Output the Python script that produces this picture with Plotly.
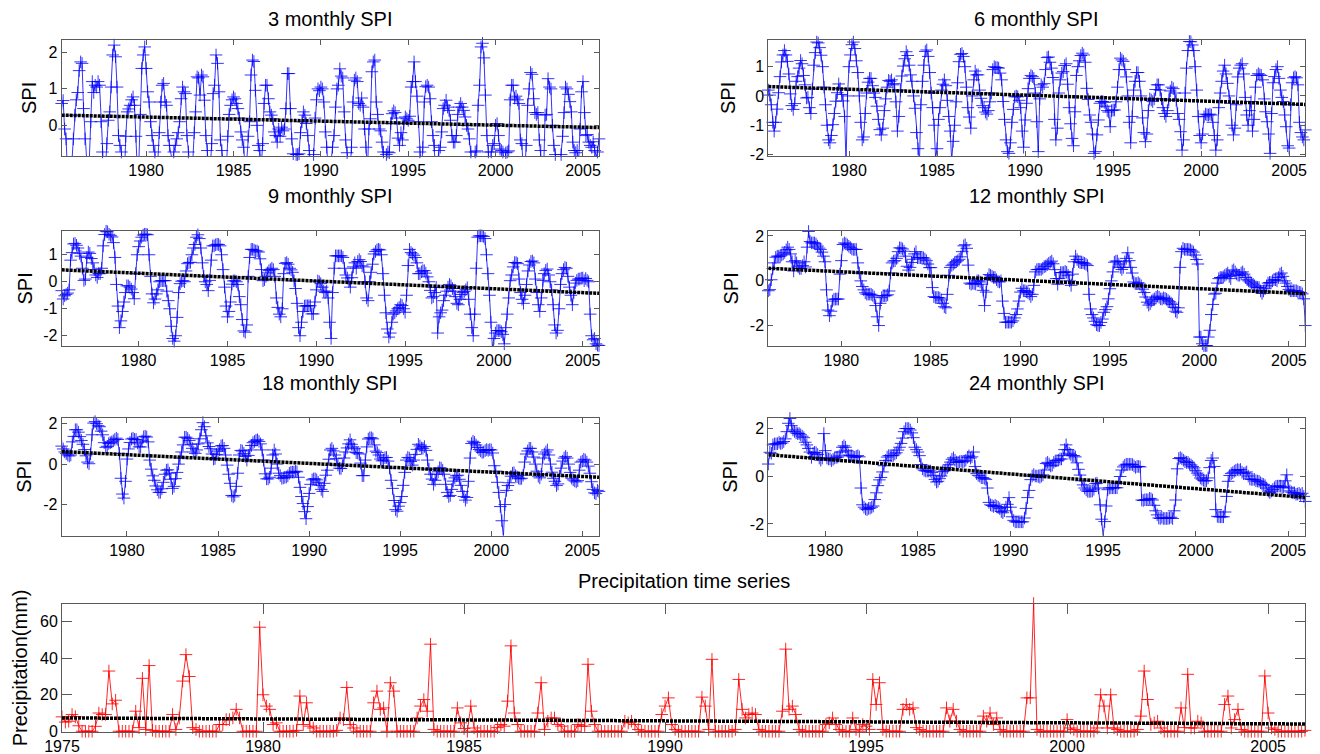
import numpy as np
import plotly.graph_objects as go

W, H = 1320, 754
OFF = 8  # page body margin in the browser; positions below are page pixels
FONT = "Liberation Sans, Arial, Helvetica, sans-serif"
BLUE = "rgba(0,0,255,0.8)"
RED = "rgba(255,0,0,0.85)"
FRAME = "#5a5a5a"

# ---------------- data (monthly values) ----------------
# 3-monthly SPI, Mar 1975 .. Dec 2005
spi3 = [
    0.6, 0.68, -0.1, -0.37, -1.3, -1.6, -1.4, -1.0, -0.37, 0.28,
    0.7, 0.9, 1.5, 1.74, 1.7, 0.46, -0.37, -1.3, -1.5, -0.9, 0.1, 1.2,
    0.9, 1.1, 1.05, 1.2, 1.1, 0.1, -0.73, -1.4, -1.2, -0.5, 0.14, 0.37,
    1.05, 1.93, 2.2, 1.88, 1.05, -0.28, -0.55, -0.73, -1.3, -1.5, -0.3, 0.37,
    0.45, 0.55, 0.7, 0.78, 0.55, -0.3, -1.3, -1.0, 0.3, 1.56, 1.93, 2.15,
    1.56, 0.92, 0.64, 0.1, -0.28, -0.55, -0.73, -1.3, -1.0, -0.2, 0.64, 1.1,
    1.15, 0.64, 0.55, -0.28, -0.55, -0.9, -1.0, -0.73, -0.55, -0.37, -0.2, 0.1,
    0.73, 1.05, 0.92, 0.87, -0.28, -0.73, -1.3, -1.5, -1.0, -0.2, 0.37, 1.33,
    1.3, 0.83, 1.38, 1.33, 0.69, -0.28, -0.69, -1.3, -1.2, -0.5, 0.87, 1.1,
    1.93, 1.7, 0.92, -0.4, -0.69, -1.2, -1.4, -1.2, -0.3, 0.3, 0.55, 0.7,
    0.78, 0.73, 0.6, 0.46, 0.2, -0.18, -0.4, -0.6, -1.2, -1.0, -0.3, 0.1,
    1.38, 1.79, 1.75, 0.96, 0.0, -0.55, -0.69, -1.2, -0.5, 0.6, 1.1, 1.1,
    0.73, 0.37, 0.28, 0.18, -0.18, -0.28, -0.46, -0.1, -0.3, -0.05, -0.15, -0.1,
    0.46, 1.42, 1.42, 0.46, -0.37, -0.78, -1.2, -0.8, -0.8, -0.78, -0.2, 0.1,
    0.37, 0.28, 0.05, -0.28, -0.69, -1.2, -1.4, -0.8, 0.2, 0.7, 1.0, 0.95,
    1.05, 1.0, 0.64, -0.18, -0.6, -1.2, -1.4, -0.9, -0.6, -0.28, 0.5, 1.0,
    1.1, 1.55, 1.35, 1.3, 0.37, -0.4, -0.75, -1.3, -1.3, -0.6, 0.64, 1.24,
    1.3, 1.2, 0.6, 0.55, 0.75, 0.5, -0.1, -0.6, -1.2, -0.1, 0.18, 1.47,
    1.74, 1.79, 0.64, 0.3, -0.1, -0.15, -0.46, -0.73, -1.3, -0.8, -0.73, -0.75,
    0.05, 0.32, 0.4, 0.35, 0.2, -0.35, -0.55, -0.2, -0.4, 0.05, 0.23, 0.18,
    0.14, 0.25, 1.05, 1.2, 1.74, 1.2, 0.8, 0.1, -0.73, -1.3, -0.6, 0.64,
    1.06, 1.1, 1.05, 0.73, 0.1, -0.28, -0.55, -1.2, -1.1, -0.69, -0.6, -0.18,
    0.46, 0.55, 0.69, 0.5, 0.41, 0.14, -0.28, -0.46, -0.46, -0.28, 0.3, 0.5,
    0.6, 0.5, 0.41, 0.23, 0.0, -0.1, -0.37, -0.73, -1.3, -1.1, -0.73, -0.7,
    0.55, 1.1, 2.15, 2.25, 1.85, 0.83, -0.28, -0.73, -1.3, -0.73, -0.55, -0.5,
    0.0, 0.05, -0.28, -0.65, -0.69, -0.73, -1.0, -0.75, -0.73, -0.7, 0.7, 1.1,
    1.1, 0.75, 0.8, 0.7, 0.6, -0.4, -0.5, -1.2, -1.3, -0.55, 0.55, 1.0,
    1.45, 1.4, 0.73, 0.35, 0.3, 0.35, -0.4, -0.69, -1.3, -1.2, 0.28, 0.3,
    1.28, 1.05, 1.0, 0.0, -0.55, -0.8, -1.3, -1.5, -1.2, -0.8, -0.3, 0.35,
    1.05, 1.0, 0.85, 0.65, 0.37, -0.46, -0.69, -0.75, -0.69, -1.0, -0.1, 0.92,
    1.2, 0.35, -0.28, -0.25, -0.46, -0.55, -0.6, -0.45, -0.69, -0.85, -0.73, -0.37,
]

# 6-monthly SPI, Jun 1975 .. Dec 2005
spi6 = [
    0.2, 0.03, -0.3, -0.9, -1.2, -0.9, -0.45,
    0.11, 0.66, 1.16, 1.4, 1.55, 1.4, 1.18, 0.75, 0.07, -0.33, -0.46, -0.26,
    0.5, 0.66, 0.95, 1.21, 1.1, 0.7, 0.38, -0.07, -0.05, -0.4, -0.6, 0.24,
    1.05, 1.48, 1.84, 1.81, 1.65, 1.39, 1.0, 0.3, -0.3, -1.0, -1.5, -1.6,
    -1.35, -0.98, -0.6, -0.18, 0.11, 0.41, 0.25, 0.05, -0.17, -0.7, -2.3, 0.0,
    1.0, 1.4, 1.75, 1.84, 1.62, 1.2, 0.8, 0.0, -0.9, -1.5, -1.4, -0.6,
    0.1, 0.47, 0.6, 0.6, 0.35, 0.1, -0.05, -0.35, -0.8, -1.15, -1.33, -1.1,
    -0.5, -0.1, 0.3, 0.53, 0.5, 0.55, 0.38, 0.42, -0.2, -1.2, -0.7, 0.2,
    0.68, 1.02, 1.27, 1.51, 1.38, 1.05, 0.72, 0.5, 0.0, -0.42, -1.25, -1.8,
    -2.3, -0.3, 0.5, 1.05, 1.52, 1.57, 1.35, 0.8, 0.1, -0.4, -1.0, -2.1,
    -1.8, -0.8, -0.4, 0.2, 0.4, 0.55, 0.35, -0.15, -0.7, -1.2, -2.2, -1.55,
    -1.0, -0.2, 0.45, 1.17, 1.42, 1.45, 1.35, 1.0, 0.3, -0.4, -0.72, -1.1,
    0.0, 0.55, 0.85, 0.72, 0.72, 0.2, -0.08, -0.33, -0.4, -0.55, -0.62, -0.5,
    -0.2, 0.1, 0.9, 1.0, 0.97, 0.97, 0.95, 0.78, 0.55, -0.19, -0.8, -1.5,
    -1.9, -1.96, -1.6, -0.9, -0.46, -0.03, 0.0, -0.03, -0.15, -0.4, -1.2, -1.75,
    -0.82, -0.25, 0.25, 0.6, 0.7, 0.66, 0.6, 0.1, -0.88, -1.9, -0.1, 0.38,
    0.3, 0.42, 0.9, 1.31, 1.33, 1.15, 0.95, 0.63, -0.8, -1.5, -1.1, 0.1,
    0.55, 0.78, 0.83, 1.04, 1.1, 0.4, -0.4, -0.95, -1.45, -1.7, -0.54, 0.7,
    1.0, 1.2, 1.38, 1.46, 1.4, 1.15, 0.26, -0.12, -0.65, -0.9, -1.3, -1.96,
    -1.9, -1.33, -0.82, -0.25, -0.19, -0.19, -0.22, -0.35, -0.5, -0.55, -1.05, -0.5,
    -0.48, -0.48, -0.2, 0.3, 0.9, 1.29, 1.23, 1.18, 0.9, 0.65, 0.0, -0.9,
    -1.6, -0.7, 0.2, 0.5, 0.8, 0.8, 0.5, 0.0, -0.75, -1.25, -1.56, -1.3,
    -0.5, -0.1, -0.14, -0.19, -0.1, 0.22, 0.38, 0.38, 0.2, -0.1, -0.4, -0.6,
    -0.7, -0.5, -0.14, 0.17, 0.3, 0.25, 0.1, -0.15, -0.6, -0.8, -1.22, -1.85,
    -1.5, 0.1, 0.95, 1.55, 1.86, 1.85, 1.74, 1.55, 1.0, 0.2, -0.7, -1.35,
    -1.6, -1.3, -0.71, -0.62, -0.64, -0.65, -0.62, -0.65, -0.9, -1.35, -1.85, -1.5,
    -0.4, 0.1, 0.5, 0.85, 1.05, 0.75, 0.43, 0.0, -0.25, -1.0, -1.33, -1.1,
    -0.3, 0.65, 0.95, 1.05, 1.1, 0.75, -0.05, -0.65, -1.0, -0.5, -0.19, -1.2,
    -0.8, 0.3, 0.7, 0.76, 0.72, 0.7, 0.55, -0.1, -0.54, -0.88, -1.3, -1.96,
    -0.6, 0.45, 0.66, 0.9, 1.0, 0.6, 0.2, -0.05, -0.19, -0.65, -1.05, -1.7,
    -1.78, -0.3, 0.45, 0.62, 0.66, 0.62, 0.38, -0.9, -1.25, -1.4, -1.5, -1.16,
]

# 9-monthly SPI, Sep 1975 .. Dec 2005
spi9 = [
    -0.33, -0.64, -0.52, -0.47,
    -0.42, -0.3, 0.8, 1.08, 1.4, 1.42, 1.35, 1.25, 1.05, 0.95, 0.5, 0.05,
    0.1, 0.9, 1.1, 1.05, 0.86, 0.7, 0.45, 0.25, 0.16, 0.3, 0.3, 0.5,
    1.33, 1.75, 1.87, 1.85, 1.76, 1.71, 1.66, 1.45, 0.9, -0.1, -0.9, -1.7,
    -1.45, -1.1, -0.75, -0.4, -0.15, -0.15, -0.2, -0.27, -0.4, -0.63, 0.3, 1.0,
    1.3, 1.51, 1.65, 1.73, 1.76, 1.76, 1.74, 1.0, 0.2, -0.45, -0.78, -0.64,
    -0.45, -0.3, 0.0, 0.04, 0.04, 0.04, 0.04, -0.35, -0.7, -1.0, -1.65, -2.1,
    -2.2, -2.0, -1.32, -0.4, -0.07, 0.02, 0.04, 0.0, 0.4, 0.67, 0.71, 0.72,
    1.0, 1.25, 1.38, 1.65, 1.74, 1.6, 1.25, 0.7, 0.2, 0.0, -0.1, -0.33,
    0.05, 0.8, 1.33, 1.33, 1.37, 1.39, 1.38, 1.33, 1.0, 0.45, -0.2, -0.9,
    -1.3, -1.1, -0.75, -0.09, 0.03, 0.04, 0.0, -0.1, -0.55, -0.85, -1.4, -1.82,
    -1.87, -1.6, 0.2, 0.9, 1.2, 1.2, 1.17, 1.14, 1.14, 1.1, 0.85, 0.45,
    0.04, 0.08, 0.2, 0.33, 0.41, 0.45, 0.5, 0.45, 0.2, -0.6, -0.95, -1.2,
    -1.3, -1.0, 0.3, 0.68, 0.71, 0.65, 0.5, 0.44, 0.35, 0.03, -0.25, -0.8,
    -1.7, -2.0, -1.5, -1.1, -0.9, -0.89, -0.89, -0.89, -0.89, -1.19, -1.19, -0.75,
    -0.3, 0.03, 0.0, -0.07, -0.2, -0.35, -0.4, -0.35, -0.6, -1.5, -2.1, -0.4,
    0.5, 0.96, 0.96, 0.96, 0.96, 0.96, 0.9, 0.5, 0.25, 0.14, 0.0, -0.2,
    0.15, 0.55, 0.7, 0.5, 0.75, 0.82, 0.75, 0.59, 0.55, 0.0, -0.6, -0.7,
    0.0, 0.35, 0.65, 1.03, 1.12, 1.18, 1.2, 1.18, 1.0, 0.3, -0.5, -1.15,
    -1.75, -2.05, -1.9, -1.5, -1.2, -1.15, -1.08, -1.0, -0.95, -0.85, -0.88, -1.0,
    -1.13, -0.5, 0.6, 1.2, 1.08, 1.03, 0.98, 0.9, 0.7, 0.3, 0.3, 0.37,
    0.41, 0.41, 0.32, 0.18, 0.0, -0.32, -0.6, -0.55, -0.4, -0.21, -1.9, -1.3,
    -1.15, -1.05, -0.7, -0.5, -0.35, -0.2, -0.1, -0.15, -0.25, -0.35, -0.55, -0.8,
    -0.85, -0.65, -0.47, -0.4, -0.36, -0.3, -0.22, -0.65, -1.2, -1.7, -2.0, -1.2,
    0.5, 1.65, 1.7, 1.7, 1.7, 1.68, 1.6, 1.0, 0.3, -0.5, -1.5, -2.45,
    -2.1, -1.9, -1.81, -1.81, -1.81, -1.85, -1.95, -2.3, -1.7, -1.2, -0.6, 0.04,
    0.25, 0.55, 0.71, 0.71, 0.67, 0.1, -0.4, -0.65, -0.8, -0.5, -0.1, 0.4,
    0.62, 0.75, 0.77, 0.7, 0.1, -0.4, -0.85, -1.1, -0.6, 0.05, 0.3, 0.42,
    0.47, 0.25, 0.0, -0.3, -0.85, -1.6, -1.9, -1.8, -1.0, -0.1, 0.3, 0.45,
    0.53, 0.5, 0.2, -0.2, -0.5, -0.85, -0.4, -0.05, 0.05, 0.1, 0.1, 0.13,
    0.14, 0.04, 0.12, 0.05, 0.0, -1.2, -2.0, -2.15, -2.1, -2.3, -2.35, -2.36,
]

# 12-monthly SPI, Dec 1975 .. Dec 2005
spi12 = [
    -0.44,
    -0.39, 0.05, 0.55, 0.8, 1.05, 1.1, 1.1, 1.1, 1.15, 1.2, 1.27, 1.38,
    1.5, 1.4, 1.2, 0.85, 0.44, 0.9, 0.8, 0.62, 0.55, 0.55, 0.68, 0.85,
    0.62, 1.5, 2.2, 1.75, 1.69, 1.69, 1.69, 1.64, 1.55, 1.46, 1.4, 1.28,
    1.1, 0.85, -0.4, -1.3, -1.55, -1.35, -0.9, -0.82, -0.81, -0.81, -0.81, 0.3,
    0.9, 1.62, 1.69, 1.65, 1.6, 1.54, 1.48, 1.42, 1.4, 1.4, 1.4, 0.8,
    0.35, 0.0, -0.25, -0.4, -0.53, -0.59, -0.59, -0.59, -0.6, -0.65, -0.72, -1.1,
    -1.6, -1.99, -1.0, -0.75, -0.66, -0.66, -0.66, -0.62, -0.45, 0.35, 0.8, 0.88,
    0.9, 1.0, 1.3, 1.47, 1.46, 1.42, 1.32, 1.1, 0.65, 0.48, 0.6, 0.82,
    0.96, 1.2, 1.3, 1.03, 1.03, 1.03, 1.03, 1.03, 0.97, 0.9, 0.75, 0.59,
    0.59, -0.3, -0.7, -0.74, -0.74, -0.74, -0.77, -0.85, -1.0, -1.15, -1.2, -0.6,
    0.25, 0.6, 0.69, 0.74, 0.8, 0.85, 0.9, 0.96, 1.07, 1.3, 1.56, 1.61,
    1.45, 0.7, -0.1, -0.15, -0.1, -0.12, -0.14, 0.0, 0.0, -0.05, -0.15, -0.42,
    -1.1, -0.5, 0.1, 0.28, 0.25, 0.2, 0.15, 0.15, 0.05, -0.03, -0.05, 0.0,
    -0.9, -1.45, -1.84, -1.84, -1.84, -1.84, -1.84, -1.78, -1.65, -1.5, -1.25, -0.9,
    -0.5, -0.33, -0.44, -0.44, -0.48, -0.52, -0.59, -0.7, -0.6, -0.2, 0.4, 0.5,
    0.51, 0.51, 0.51, 0.56, 0.63, 0.66, 0.72, 0.78, 0.83, 0.88, 0.76, 0.5,
    0.1, -0.15, 0.1, 0.37, 0.37, 0.37, 0.42, 0.38, 0.25, 0.0, -0.2, 0.3,
    0.85, 1.1, 0.95, 0.85, 0.81, 0.81, 0.81, 0.78, 0.74, 0.68, -0.6, -1.25,
    -1.5, -1.65, -1.8, -1.95, -1.99, -1.99, -1.85, -1.7, -1.4, -1.28, -1.15, -0.8,
    -0.35, 0.0, 0.4, 0.83, 0.88, 0.88, 0.75, 0.6, 0.51, 0.6, 0.85, 1.0,
    1.25, 0.9, 0.6, 0.35, -0.05, -0.12, -0.12, -0.08, -0.14, -0.22, -0.37, -0.52,
    -0.72, -0.95, -1.08, -1.02, -0.9, -0.84, -0.8, -0.73, -0.68, -0.73, -0.8, -0.81,
    -0.76, -0.78, -0.82, -0.88, -0.93, -0.99, -1.05, -1.18, -1.35, -1.4, -1.2, 0.6,
    1.3, 1.45, 1.4, 1.4, 1.4, 1.4, 1.38, 1.33, 1.28, 1.15, 0.95, 0.75,
    -2.5, -2.5, -2.8, -2.88, -2.88, -2.88, -2.5, -2.2, -1.5, -1.05, -0.59, -0.55,
    -0.1, 0.1, 0.15, 0.15, 0.18, 0.24, 0.29, 0.35, 0.2, 0.1, 0.44, 0.49,
    0.4, 0.3, 0.25, 0.25, 0.35, 0.4, 0.3, 0.15, 0.05, 0.0, -0.05, -0.1,
    -0.15, -0.22, -0.27, -0.29, -0.3, -0.45, -0.56, -0.45, -0.35, -0.22, -0.1, -0.07,
    -0.07, 0.0, 0.05, 0.05, 0.0, 0.15, 0.3, 0.35, 0.2, 0.0, -0.1, -0.25,
    -0.38, -0.44, -0.44, -0.44, -0.44, -0.44, -0.48, -0.51, -0.52, -0.58, -0.8, -1.99,
]

# 18-monthly SPI, Jun 1976 .. Dec 2005
spi18 = [
    0.89, 0.75, 0.6, 0.52, 0.45, 0.4, 0.45,
    1.1, 1.37, 1.7, 1.7, 1.58, 1.36, 1.17, 0.98, 0.72, 0.41, 0.1, 0.02,
    0.5, 1.45, 2.03, 2.1, 2.0, 1.9, 1.85, 1.63, 1.45, 1.06, 0.83, 0.88,
    1.02, 1.06, 1.1, 1.15, 1.22, 1.28, 1.22, 0.53, -0.7, -1.48, -1.68, -0.85,
    0.25, 0.75, 1.07, 1.24, 1.28, 1.22, 1.22, 1.05, 0.85, 0.85, 1.15, 1.35,
    1.38, 1.34, 1.1, 0.2, -0.25, -0.58, -0.8, -1.08, -1.27, -1.4, -1.4, -1.22,
    -0.9, -0.5, -0.3, -0.28, -0.45, -0.75, -1.2, -1.1, -0.72, -0.41, 0.0, 0.3,
    0.6, 0.95, 1.33, 1.33, 1.27, 1.17, 0.98, 0.78, 0.6, 0.53, 0.7, 1.0,
    1.25, 1.7, 2.05, 1.85, 1.4, 1.05, 0.87, 0.76, 0.5, 0.25, 0.28, 0.48,
    0.64, 0.71, 0.9, 0.92, 0.78, 0.45, -0.05, -0.5, -0.95, -1.55, -1.62, -1.55,
    -1.1, -0.45, 0.45, 0.68, 0.65, 0.53, 0.38, 0.2, 0.43, 0.7, 0.92, 1.06,
    1.12, 1.18, 1.2, 1.12, 1.0, 0.7, 0.2, -0.48, -0.73, -0.73, -0.65, -0.2,
    0.45, 0.7, 0.5, 0.0, -0.45, -0.57, -0.7, -0.68, -0.65, -0.64, -0.58, -0.45,
    -0.4, -0.4, -0.4, -0.35, -0.38, -0.65, -1.15, -1.6, -1.95, -2.35, -2.7, -2.1,
    -1.45, -1.0, -0.78, -0.73, -0.73, -0.78, -0.9, -1.05, -1.25, -1.35, -0.95, -0.55,
    -0.3, 0.24, 0.7, 0.78, 0.65, 0.45, 0.27, -0.05, -0.2, -0.22, -0.08, 0.3,
    0.6, 0.8, 1.0, 1.2, 0.98, 0.85, 0.76, 0.57, 0.55, 0.5, 0.05, -0.57,
    -0.57, 0.2, 0.85, 1.24, 1.3, 1.3, 1.25, 0.95, 0.64, 0.57, 0.45, 0.25,
    0.16, 0.2, 0.32, 0.33, 0.15, -0.2, -0.8, -1.2, -1.8, -2.25, -2.33, -2.08,
    -1.9, -1.6, -1.05, -0.41, 0.2, 0.33, 0.3, 0.13, -0.05, 0.2, 0.48, 0.73,
    0.98, 0.9, 0.8, 0.78, 0.87, 0.68, 0.2, -0.25, -0.5, -0.74, -1.0, -0.8,
    -0.5, -0.38, -0.18, -0.2, -0.3, -0.5, -1.0, -1.4, -1.6, -1.55, -1.25, -0.84,
    -0.68, -0.58, -0.55, -0.75, -1.05, -1.35, -1.6, -1.78, -1.65, -0.85, 0.3, 1.02,
    1.13, 1.07, 0.95, 0.82, 0.72, 0.65, 0.58, 0.6, 0.67, 0.72, 0.68, 0.72,
    0.7, 0.55, -0.08, -0.35, -0.9, -1.4, -2.1, -2.8, -3.6, -2.0, -1.3, -1.06,
    -0.92, -0.6, -0.45, -0.43, -0.57, -0.63, -0.69, -0.73, -0.7, -0.55, 0.1, 0.5,
    0.65, 0.78, 0.78, 0.6, 0.35, 0.0, -0.35, -0.6, -0.68, -0.5, 0.3, 0.5,
    0.6, 0.7, 0.45, 0.0, -0.4, -0.7, -0.85, -1.06, -0.98, -0.6, -0.2, 0.15,
    0.3, 0.38, 0.3, 0.0, -0.41, -0.7, -0.78, -0.83, -0.88, -0.82, -0.3, 0.1,
    0.15, 0.24, 0.2, 0.1, -0.1, -0.45, -0.87, -1.25, -1.42, -1.46, -1.3, -1.35,
]

# 24-monthly SPI, Dec 1976 .. Dec 2005
spi24 = [
    0.5,
    0.99, 0.95, 1.3, 1.34, 1.34, 1.35, 1.41, 1.36, 1.38, 1.44, 1.55, 1.85,
    2.2, 2.4, 2.1, 1.92, 1.86, 1.8, 1.77, 1.77, 1.72, 1.66, 1.6, 1.41,
    1.3, 1.15, 1.0, 0.78, 0.95, 0.99, 0.97, 0.9, 0.75, 0.66, 0.75, 1.77,
    1.06, 0.75, 0.71, 0.71, 0.64, 0.7, 0.75, 0.78, 0.79, 0.84, 1.0, 1.2,
    1.26, 1.2, 1.05, 0.88, 0.85, 0.85, 0.8, 0.78, 0.82, 0.85, 0.8, -0.5,
    -1.2, -1.3, -1.37, -1.4, -1.35, -1.34, -1.3, -1.25, -0.98, -0.7, -0.4, -0.16,
    -0.06, 0.17, 0.43, 0.65, 0.79, 0.85, 0.85, 0.85, 0.86, 0.92, 0.97, 1.08,
    1.2, 1.36, 1.58, 1.85, 1.98, 1.98, 1.98, 1.92, 1.8, 1.6, 1.2, 1.1,
    1.0, 0.85, 0.48, 0.3, 0.24, 0.21, 0.21, 0.21, 0.21, 0.15, 0.03, -0.14,
    -0.25, -0.22, -0.11, 0.0, 0.18, 0.21, 0.26, 0.35, 0.47, 0.58, 0.7, 0.76,
    0.66, 0.58, 0.57, 0.6, 0.62, 0.59, 0.62, 0.66, 0.78, 0.84, 0.75, 0.8,
    1.0, 0.4, 0.1, 0.03, 0.0, -0.07, -0.07, -0.1, -0.14, -0.5, -1.1, -1.2,
    -1.23, -1.27, -1.22, -1.27, -1.3, -1.36, -1.48, -1.53, -1.45, -1.3, -1.18, -0.9,
    -1.3, -1.7, -1.85, -1.91, -1.91, -1.91, -1.91, -1.91, -1.91, -1.75, -1.35, -0.9,
    -0.6, -0.15, 0.0, 0.06, 0.0, 0.0, -0.02, -0.05, 0.0, 0.05, 0.25, 0.52,
    0.57, 0.5, 0.42, 0.45, 0.57, 0.63, 0.64, 0.66, 0.71, 0.71, 0.85, 1.1,
    1.3, 1.1, 0.95, 0.9, 0.85, 0.85, 0.8, 0.55, 0.28, 0.04, -0.2, -0.37,
    -0.5, -0.58, -0.64, -0.64, -0.64, -0.62, -0.55, -0.32, -0.3, -0.5, -1.2, -1.8,
    -2.5, -1.9, -1.25, -0.57, -0.5, -0.49, -0.49, -0.49, -0.49, -0.49, -0.3, -0.02,
    0.25, 0.38, 0.45, 0.49, 0.49, 0.49, 0.49, 0.48, 0.42, 0.36, 0.4, 0.4,
    0.38, -1.0, -1.02, -0.99, -0.99, -0.99, -0.93, -0.95, -1.0, -1.22, -1.45, -1.62,
    -1.75, -1.77, -1.72, -1.77, -1.77, -1.77, -1.77, -1.75, -1.72, -1.77, -1.45, -1.0,
    0.3, 0.73, 0.77, 0.72, 0.66, 0.6, 0.57, 0.57, 0.5, 0.46, 0.4, 0.34,
    0.22, 0.12, 0.04, -0.08, -0.13, -0.18, -0.21, -0.19, -0.08, 0.35, 0.65, 0.75,
    0.4, -1.4, -1.68, -1.7, -1.7, -1.7, -1.7, -1.5, -0.85, -0.22, 0.02, 0.1,
    0.14, 0.2, 0.24, 0.27, 0.25, 0.27, 0.16, 0.1, 0.13, 0.17, 0.0, -0.12,
    -0.14, -0.14, -0.14, -0.2, -0.21, -0.22, -0.28, -0.33, -0.35, -0.4, -0.5, -0.63,
    -0.69, -0.63, -0.56, -0.49, -0.43, -0.42, -0.42, -0.42, -0.48, -0.45, -0.2, 0.05,
    -0.5, -0.62, -0.67, -0.7, -0.7, -0.76, -0.75, -0.72, -0.78, -0.72, -0.85, -1.06,
]

# Monthly precipitation (mm), Jan 1975 .. Dec 2005
precip = [
    7.9, 5.0, 5.5, 9.2, 8.0, 3.0, 0, 0, 0, 0, 2.7, 10,
    9.2, 9.2, 33, 15, 17, 0, 0, 0, 0, 0, 11, 2,
    29, 1, 36, 0.5, 0, 0, 0, 0, 0, 9.2, 1, 7.3,
    27.5, 42, 30, 2, 1, 0, 0, 0, 0, 0, 0, 3.7,
    3.7, 6.4, 6.4, 7.3, 12, 7.3, 0, 0, 0, 0, 0, 57,
    20, 13.8, 12, 3.7, 4.6, 0, 0, 0, 0, 0, 0.5, 19.3,
    3.7, 15.6, 2.8, 1.8, 0, 0, 0, 0, 0, 0, 0.5, 7.3,
    6.4, 24, 3.7, 1.8, 0, 0, 0, 0, 0, 15.6, 22, 12,
    12.8, 0, 26.6, 22, 0, 0, 0, 0, 0, 0, 7.3, 13.8,
    17.4, 11, 47.7, 1, 0, 0, 0, 0, 0, 0, 12.8, 4.6,
    1.5, 0, 13.8, 1.8, 0, 0, 0, 0, 0, 0, 2, 3.7,
    2.8, 16.5, 46.8, 10, 3.7, 0, 0, 0, 0, 0, 10, 26.6,
    1, 5.5, 7.3, 7.3, 3.7, 2.8, 0, 0, 0, 0, 3.7, 2.8,
    2.8, 36.7, 11, 3.7, 0, 0, 0, 0, 0, 0, 0, 0,
    5.5, 4.6, 5.5, 3.7, 1, 0, 0, 0, 0, 0, 0, 9.2,
    13.8, 18.3, 3.7, 1, 0, 0, 0, 0, 0, 0, 0, 18.7,
    13.8, 1, 39.4, 0, 0, 0, 0, 0, 0, 1, 28.4, 12,
    7.3, 9.2, 10, 9.2, 1, 0, 0, 0, 0, 0, 0, 11,
    45, 12, 13.8, 9.2, 1, 0, 0, 0, 0, 0, 0, 0,
    3.7, 4.6, 7.3, 3.7, 1, 0, 0, 0, 7.3, 1, 0, 3.7,
    2.8, 1, 28.4, 14.7, 26.6, 1, 0, 0, 0, 0, 0, 12,
    14.7, 12, 12.8, 2, 1, 0, 0, 0, 0, 0, 0, 0,
    12.8, 5.5, 12, 5.5, 1, 0, 0, 0, 0, 0, 0, 8.3,
    5.5, 10, 3.7, 7.3, 1, 0, 0, 0, 0, 0, 0, 0,
    18.3, 18.3, 70, 1, 0, 0, 0, 0, 0, 0, 0, 0,
    6.4, 1.8, 1, 0, 0, 0, 0, 0, 0, 1.8, 20, 13.8,
    1.8, 20, 1.8, 1, 0, 0, 0, 0, 0, 1, 8.3, 33,
    17.4, 3.7, 4.6, 5.5, 1.8, 0, 0, 0, 0, 0, 12.8, 2,
    31.2, 1.8, 1.8, 5.5, 4.6, 0, 0, 0, 0, 0, 0, 14.7,
    19.3, 1.8, 6.4, 12, 1, 0, 0, 0, 0, 0, 0, 30.3,
    10, 1.8, 1, 0, 0, 0, 0, 0, 0, 0, 0, 0.5,
]

# trend line end values (start, end)
trend3 = [0.28, -0.06]
trend6 = [0.32, -0.29]
trend9 = [0.44, -0.43]
trend12 = [0.56, -0.57]
trend18 = [0.62, -0.65]
trend24 = [0.89, -0.89]
trend_p = [7.3, 4.0]

spi_ticks_x = [1980, 1985, 1990, 1995, 2000, 2005]
precip_ticks_x = [1975, 1980, 1985, 1990, 1995, 2000, 2005]

# ---------------- layout geometry (page pixels) ----------------
panels = [
    dict(title="3 monthly SPI", y=spi3, start=(1975, 3), trend=trend3, yr=[-0.84, 2.34],
         yt=[0, 1, 2], box=(61.7, 599, 40, 156), ty=19, lx=29, ylab="SPI", color=BLUE,
         xt=spi_ticks_x, tl=5),
    dict(title="6 monthly SPI", y=spi6, start=(1975, 6), trend=trend6, yr=[-2.05, 1.91],
         yt=[-2, -1, 0, 1], box=(768.3, 1305.3, 40, 156), ty=19, lx=728, ylab="SPI", color=BLUE,
         xt=spi_ticks_x, tl=5),
    dict(title="9 monthly SPI", y=spi9, start=(1975, 9), trend=trend9, yr=[-2.38, 1.88],
         yt=[-2, -1, 0, 1], box=(61.7, 599, 231, 346), ty=196, lx=24, ylab="SPI", color=BLUE,
         xt=spi_ticks_x, tl=5),
    dict(title="12 monthly SPI", y=spi12, start=(1975, 12), trend=trend12, yr=[-2.9, 2.22],
         yt=[-2, 0, 2], box=(768.3, 1305.3, 231, 346), ty=196, lx=730, ylab="SPI", color=BLUE,
         xt=spi_ticks_x, tl=5),
    dict(title="18 monthly SPI", y=spi18, start=(1976, 6), trend=trend18, yr=[-3.53, 2.28],
         yt=[-2, 0, 2], box=(61.7, 599, 418, 535.5), ty=383, lx=24, ylab="SPI", color=BLUE,
         xt=spi_ticks_x, tl=5),
    dict(title="24 monthly SPI", y=spi24, start=(1976, 12), trend=trend24, yr=[-2.48, 2.42],
         yt=[-2, 0, 2], box=(768.3, 1305.3, 418, 535.5), ty=383, lx=730, ylab="SPI", color=BLUE,
         xt=spi_ticks_x, tl=5),
    dict(title="Precipitation time series", y=precip, start=(1975, 1), trend=trend_p, yr=[-0.4, 70],
         yt=[0, 20, 40, 60], box=(62, 1305, 603.5, 732), ty=581, lx=19.5, ylab="Precipitation(mm)",
         color=RED, xt=precip_ticks_x, tl=10),
]


def fx(px):
    return (px - OFF) / W


def fy(py):
    return 1 - (py - OFF) / H


fig = go.Figure()
layout = dict(width=W, height=H, autosize=False,
              margin=dict(l=0, r=0, t=0, b=0, pad=0, autoexpand=False),
              paper_bgcolor="white", plot_bgcolor="white", showlegend=False,
              annotations=[])

for i, p in enumerate(panels, start=1):
    vals = np.array(p["y"], dtype=float)
    y0, m0 = p["start"]
    x = y0 + (m0 - 1) / 12.0 + np.arange(len(vals)) / 12.0
    xr = [float(x[0]), float(x[-1])]
    lo, hi = p["yr"]
    xa, ya = f"x{i}", f"y{i}"

    # connecting line (clipped to axes)
    fig.add_trace(go.Scatter(x=x, y=vals, mode="lines", xaxis=xa, yaxis=ya,
                             line=dict(color=p["color"], width=1), hoverinfo="skip"))
    # "+" markers only for points inside the axis limits, drawn unclipped
    ym = [v if lo <= v <= hi else None for v in vals]
    fig.add_trace(go.Scatter(x=x, y=ym, mode="markers", xaxis=xa, yaxis=ya, cliponaxis=False,
                             marker=dict(symbol="cross-thin", size=9,
                                         line=dict(color=p["color"], width=1)),
                             hoverinfo="skip"))
    # trend line
    fig.add_trace(go.Scatter(x=xr, y=p["trend"], mode="lines", xaxis=xa, yaxis=ya,
                             line=dict(color="black", width=3.5, dash="3px,1px"),
                             hoverinfo="skip"))

    bx0, bx1, by0, by1 = p["box"]
    common = dict(ticks="inside", ticklen=p["tl"], tickwidth=1, tickcolor=FRAME,
                  showline=True, linecolor=FRAME, linewidth=1, mirror="ticks",
                  showgrid=False, zeroline=False, fixedrange=True, automargin=False,
                  tickfont=dict(family=FONT, size=16, color="black"))
    layout[f"xaxis{i}"] = dict(domain=[fx(bx0), fx(bx1)], range=xr, anchor=ya,
                               tickvals=p["xt"], ticktext=[str(v) for v in p["xt"]], **common)
    layout[f"yaxis{i}"] = dict(domain=[fy(by1), fy(by0)], range=[lo, hi], anchor=xa,
                               tickvals=p["yt"], ticktext=[str(v) for v in p["yt"]], **common)

    layout["annotations"].append(dict(
        text=p["title"], xref="paper", yref="paper", x=fx((bx0 + bx1) / 2), y=fy(p["ty"]),
        xanchor="center", yanchor="middle", showarrow=False,
        font=dict(family=FONT, size=20, color="black")))
    layout["annotations"].append(dict(
        text=p["ylab"], xref="paper", yref="paper", x=fx(p["lx"]), y=fy((by0 + by1) / 2),
        xanchor="center", yanchor="middle", showarrow=False, textangle=-90,
        font=dict(family=FONT, size=20, color="black")))

fig.update_layout(**layout)
fig.write_html("out.html")
